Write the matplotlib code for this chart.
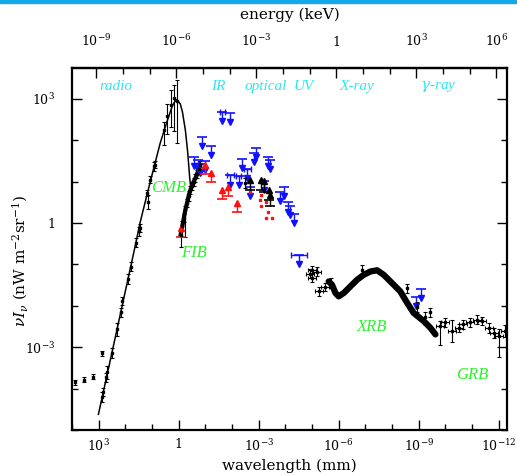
import numpy as np
import matplotlib.pyplot as plt
from matplotlib.patches import Rectangle
from matplotlib.ticker import NullFormatter

plt.rcParams['font.family'] = 'DejaVu Serif'
plt.rcParams['mathtext.fontset'] = 'dejavuserif'

# all values as log10(wavelength / mm) and log10(nu I_nu / nW m^-2 sr^-1)

# CMB blackbody line
cmb_curve_lam = [3.01, 2.56, 2.11, 1.66, 1.44, 1.19, 0.95, 0.69, 0.44, 0.24, 0.15,
                 0.07, -0.06, -0.14, -0.25, -0.34, -0.41, -0.47]
cmb_curve_I = [-4.62, -3.30, -1.97, -0.64, 0.03, 0.68, 1.29, 1.94, 2.45, 2.83, 2.93,
               2.98, 2.88, 2.69, 2.25, 1.70, 1.12, 0.76]

# CMB measurements
cmb_lam = [2.86, 2.84, 2.74, 2.67, 2.49, 2.33, 2.15, 2.11, 1.89, 1.80, 1.59, 1.50,
           1.46, 1.19, 1.16, 1.06, 0.94, 0.90, 0.56, 0.44, 0.27, 0.17, 0.06]
cmb_I = [-4.21, -4.09, -3.73, -3.61, -3.13, -2.57, -2.16, -1.89, -1.34, -1.05, -0.47, -0.20,
         -0.11, 0.73, 0.52, 1.05, 1.37, 1.41, 2.25, 2.59, 2.86, 3.02, 2.95]
cmb_lo = [0.12, 0.1, 0.1, 0.15, 0.12, 0.15, 0.1, 0.1, 0.12, 0.1, 0.1, 0.1,
          0.1, 0.08, 0.17, 0.08, 0.1, 0.08, 0.36, 0.43, 0.53, 0.80, 1.01]
cmb_hi = [0.12, 0.1, 0.1, 0.15, 0.12, 0.15, 0.1, 0.1, 0.12, 0.1, 0.1, 0.1,
          0.1, 0.08, 0.17, 0.08, 0.1, 0.08, 0.19, 0.29, 0.36, 0.31, 0.50]

# low-frequency radio points
radio_lam = [2.86, 3.21, 3.55, 3.89]
radio_I = [-3.15, -3.71, -3.78, -3.85]

# far-infrared background
fib_lam = [-0.075, -0.14, -0.195, -0.25, -0.315, -0.375, -0.44, -0.50, -0.56, -0.63,
           -0.69, -0.75, -0.81]
fib_I = [-0.28, -0.06, 0.13, 0.32, 0.49, 0.66, 0.80, 0.90, 1.00, 1.09, 1.19, 1.31, 1.41]
fib_lo = [0.30, 0.1, 0.1, 0.65, 0.1, 0.12, 0.1, 0.1, 0.1, 0.1, 0.1, 0.1, 0.1]
fib_hi = [0.1, 0.1, 0.1, 0.1, 0.1, 0.12, 0.1, 0.1, 0.1, 0.1, 0.1, 0.1, 0.1]

# lower limits (red)
red_lam = [-0.09, -1.00, -1.23, -1.63, -1.84, -2.19]
red_I = [-0.33, 1.19, 0.99, 0.58, 0.66, 0.26]
dot_lam = [-2.66, -3.09, -3.06, -3.09, -3.29, -3.34, -3.29, -3.50]
dot_I = [0.74, 0.68, 0.56, 0.42, 0.52, 0.26, 0.12, 0.12]

# optical (black)
opt_bar_lam = [-2.50]
opt_bar_I = [0.97]
opt_lam = [-2.66, -3.09, -3.19, -3.375, -3.44]
opt_I = [0.80, 0.80, 0.76, 0.56, 0.42]

# upper limits (blue)
blue_lam = [-1.63, -1.91, -0.88, -1.23, -0.59, -0.71, -1.00, -0.81, -2.38, -2.81, -2.91,
            -3.34, -3.41, -1.94, -2.25, -2.57, -2.66, -3.19, -3.79, -3.96, -4.09, -4.16,
            -4.31, -4.52, -9.09, -8.91]
blue_I = [2.69, 2.66, 2.08, 1.87, 1.60, 1.53, 1.50, 1.43, 1.54, 1.70, 1.82,
          1.60, 1.53, 1.15, 1.14, 1.30, 0.88, 1.02, 0.76, 0.88, 0.50, 0.42,
          0.23, -0.76, -1.60, -1.78]
blue_dx = [0.09, 0, 0, 0, 0, 0, 0, 0, 0, 0, 0,
           0, 0, 0.125, 0.1, 0.125, 0, 0, 0, 0, 0, 0,
           0, 0.30, 0, 0]

# soft X-ray points
xr_lam = [-5.00, -4.94, -5.19, -5.01, -5.25, -5.50]
xr_I = [-1.13, -1.22, -1.17, -1.32, -1.65, -1.54]

# X-ray background band
xrb_lam = [-5.625, -5.75, -5.88, -6.0, -6.19, -6.44, -6.69, -6.94, -7.19, -7.44, -7.69,
           -7.94, -8.31, -8.57, -8.81, -9.19, -9.44, -9.63]
xrb_I = [-1.41, -1.49, -1.69, -1.77, -1.69, -1.53, -1.37, -1.25, -1.17, -1.14, -1.25,
         -1.41, -1.65, -1.93, -2.17, -2.37, -2.53, -2.69]
xrbe_lam = [-5.70, -6.88, -8.57, -8.95, -9.25, -9.44]
xrbe_I = [-1.45, -1.13, -1.58, -2.02, -2.28, -2.16]

# gamma-ray background
grb_lam = [-9.81, -10.0, -10.25, -10.5, -10.68, -10.94, -11.19, -11.38, -11.63, -11.81,
           -12.0, -12.25]
grb_I = [-2.49, -2.40, -2.61, -2.53, -2.45, -2.40, -2.33, -2.37, -2.53, -2.65, -2.74, -2.61]
grb_lo = [0.45, 0.1, 0.27, 0.1, 0.1, 0.1, 0.12, 0.1, 0.12, 0.12, 0.50, 0.15]
grb_hi = [0.12, 0.1, 0.27, 0.1, 0.1, 0.1, 0.12, 0.1, 0.12, 0.12, 0.17, 0.15]

bands = ['radio', 'IR', 'optical', 'UV', 'X-ray', r'$\gamma$-ray']
band_lam = [2.37, -1.47, -3.27, -4.71, -6.70, -9.74]
comps = ['CMB', 'FIB', 'XRB', 'GRB']
comp_lam = [0.36, -0.57, -7.25, -11.01]
comp_I = [0.85, -0.72, -2.52, -3.66]

CYAN = '#2ee6f2'
GREEN = '#2cf22c'
BLUE = '#1010ff'
RED = '#ff1010'


def p(v):
    return 10 ** np.asarray(v, float)


def logerr(v, lo, hi):
    v = np.asarray(v, float)
    return [10 ** v - 10 ** (v - np.asarray(lo, float)),
            10 ** (v + np.asarray(hi, float)) - 10 ** v]


fig = plt.figure(figsize=(5.17, 4.76), dpi=100)
ax = fig.add_axes([0.1393, 0.0966, 0.8407, 0.7599])
ax.set_xscale('log')
ax.set_yscale('log')

# top border strip of the page
fig.patches.append(Rectangle((0, 1 - 3 / 476), 1, 3 / 476, transform=fig.transFigure,
                             color='#14a8e6', zorder=0))

ebkw = dict(fmt='s', ms=2, color='black', ecolor='black', elinewidth=0.8, capsize=1.5,
            capthick=0.8)

ax.plot(p(cmb_curve_lam), p(cmb_curve_I), color='black', lw=1.1)
ax.errorbar(p(cmb_lam), p(cmb_I), yerr=logerr(cmb_I, cmb_lo, cmb_hi), **ebkw)
ax.errorbar(p(radio_lam), p(radio_I), yerr=logerr(radio_I, [0.06] * 4, [0.06] * 4), **ebkw)

ax.plot(p(fib_lam), p(fib_I), color='black', lw=3)
ax.errorbar(p(fib_lam), p(fib_I), yerr=logerr(fib_I, fib_lo, fib_hi), **ebkw)


def limits(lam, I, color, up, dx=None, size=0.22):
    x, y = p(lam), p(I)
    tip = y * 10 ** (size if up else -size)
    ax.vlines(x, y, tip, color=color, lw=1)
    ax.plot(x, tip, ls='none', marker='^' if up else 'v', ms=4, color=color)
    ax.plot(x, y, ls='none', marker='_', ms=7, mew=1.2, color=color)
    if dx is not None:
        dx = np.asarray(dx, float)
        m = dx > 0
        ax.errorbar(x[m], y[m], xerr=logerr(np.asarray(lam)[m], dx[m], dx[m]),
                    fmt='none', ecolor=color, elinewidth=1, capsize=2)


limits(blue_lam, blue_I, BLUE, False, blue_dx)
limits(red_lam, red_I, RED, True)
ax.plot(p(dot_lam), p(dot_I), ls='none', marker='s', ms=1.8, color=RED)
limits(opt_lam, opt_I, 'black', True, size=0.25)
ax.errorbar(p(opt_bar_lam), p(opt_bar_I), yerr=logerr(opt_bar_I, [0.12], [0.12]), **ebkw)

ax.errorbar(p(xr_lam), p(xr_I), xerr=logerr(xr_lam, [0.15] * 6, [0.15] * 6),
            yerr=logerr(xr_I, [0.1] * 6, [0.1] * 6), **ebkw)
ax.plot(p(xrb_lam), p(xrb_I), color='black', lw=4.5, solid_capstyle='round')
ax.errorbar(p(xrbe_lam), p(xrbe_I), yerr=logerr(xrbe_I, [0.12] * 6, [0.12] * 6), **ebkw)
ax.errorbar(p(grb_lam), p(grb_I), xerr=logerr(grb_lam, [0.15] * 12, [0.15] * 12),
            yerr=logerr(grb_I, grb_lo, grb_hi), **ebkw)

for name, lam in zip(bands, band_lam):
    ax.text(p(lam), 10 ** 3.31, name, color=CYAN, style='italic', fontsize=11,
            family='Liberation Serif', ha='center', va='center')
for name, lam, I in zip(comps, comp_lam, comp_I):
    ax.text(p(lam), p(I), name, color=GREEN, style='italic', fontsize=12,
            family='Liberation Serif', ha='center', va='center')

ax.set_xlim(1e4, 10 ** -12.3)
ax.set_ylim(1e-5, 10 ** 3.74)

ax.set_xticks([1e3, 1, 1e-3, 1e-6, 1e-9, 1e-12],
              [r'$10^{3}$', '1', r'$10^{-3}$', r'$10^{-6}$', r'$10^{-9}$', r'$10^{-12}$'])
ax.set_xticks([10.0 ** k for k in range(-12, 5)], minor=True)
ax.xaxis.set_minor_formatter(NullFormatter())
ax.set_yticks([1e-3, 1, 1e3], [r'$10^{-3}$', '1', r'$10^{3}$'])
ax.set_yticks([10.0 ** k for k in range(-5, 4)], minor=True)
ax.yaxis.set_minor_formatter(NullFormatter())
ax.tick_params(which='both', direction='in', right=True, top=False, width=1)
ax.tick_params(which='major', length=7, labelsize=9)
ax.tick_params(which='minor', length=4)
ax.tick_params(axis='y', which='major', pad=12)
ax.tick_params(axis='x', which='major', pad=6)
for s in ax.spines.values():
    s.set_linewidth(1.6)

conv = lambda v: 1.2398e-6 / np.maximum(v, 1e-300)
sec = ax.secondary_xaxis('top', functions=(conv, conv))
sec.set_xticks([1e-9, 1e-6, 1e-3, 1, 1e3, 1e6],
               [r'$10^{-9}$', r'$10^{-6}$', r'$10^{-3}$', '1', r'$10^{3}$', r'$10^{6}$'])
sec.set_xticks([10.0 ** k for k in range(-9, 7)], minor=True)
sec.xaxis.set_minor_formatter(NullFormatter())
sec.tick_params(which='both', direction='in', width=1)
sec.tick_params(which='major', length=7, labelsize=9, pad=14)
sec.tick_params(which='minor', length=4)
sec.spines['top'].set_linewidth(1.6)
sec.set_xlabel('energy (keV)', fontsize=11)
sec.xaxis.label.set_va('center')
sec.xaxis.set_label_coords(290 / 517, 1 - 15 / 476, transform=fig.transFigure)

ax.set_xlabel('wavelength (mm)', fontsize=11)
ax.xaxis.label.set_va('center')
ax.xaxis.set_label_coords(0.5, -0.099)
ax.set_ylabel(r'$\nu I_\nu$ (nW m$^{-2}$sr$^{-1}$)', fontsize=11)
ax.yaxis.label.set_va('center')
ax.yaxis.set_label_coords(-0.12, 0.467)

fig.savefig('out.png', dpi=100)
